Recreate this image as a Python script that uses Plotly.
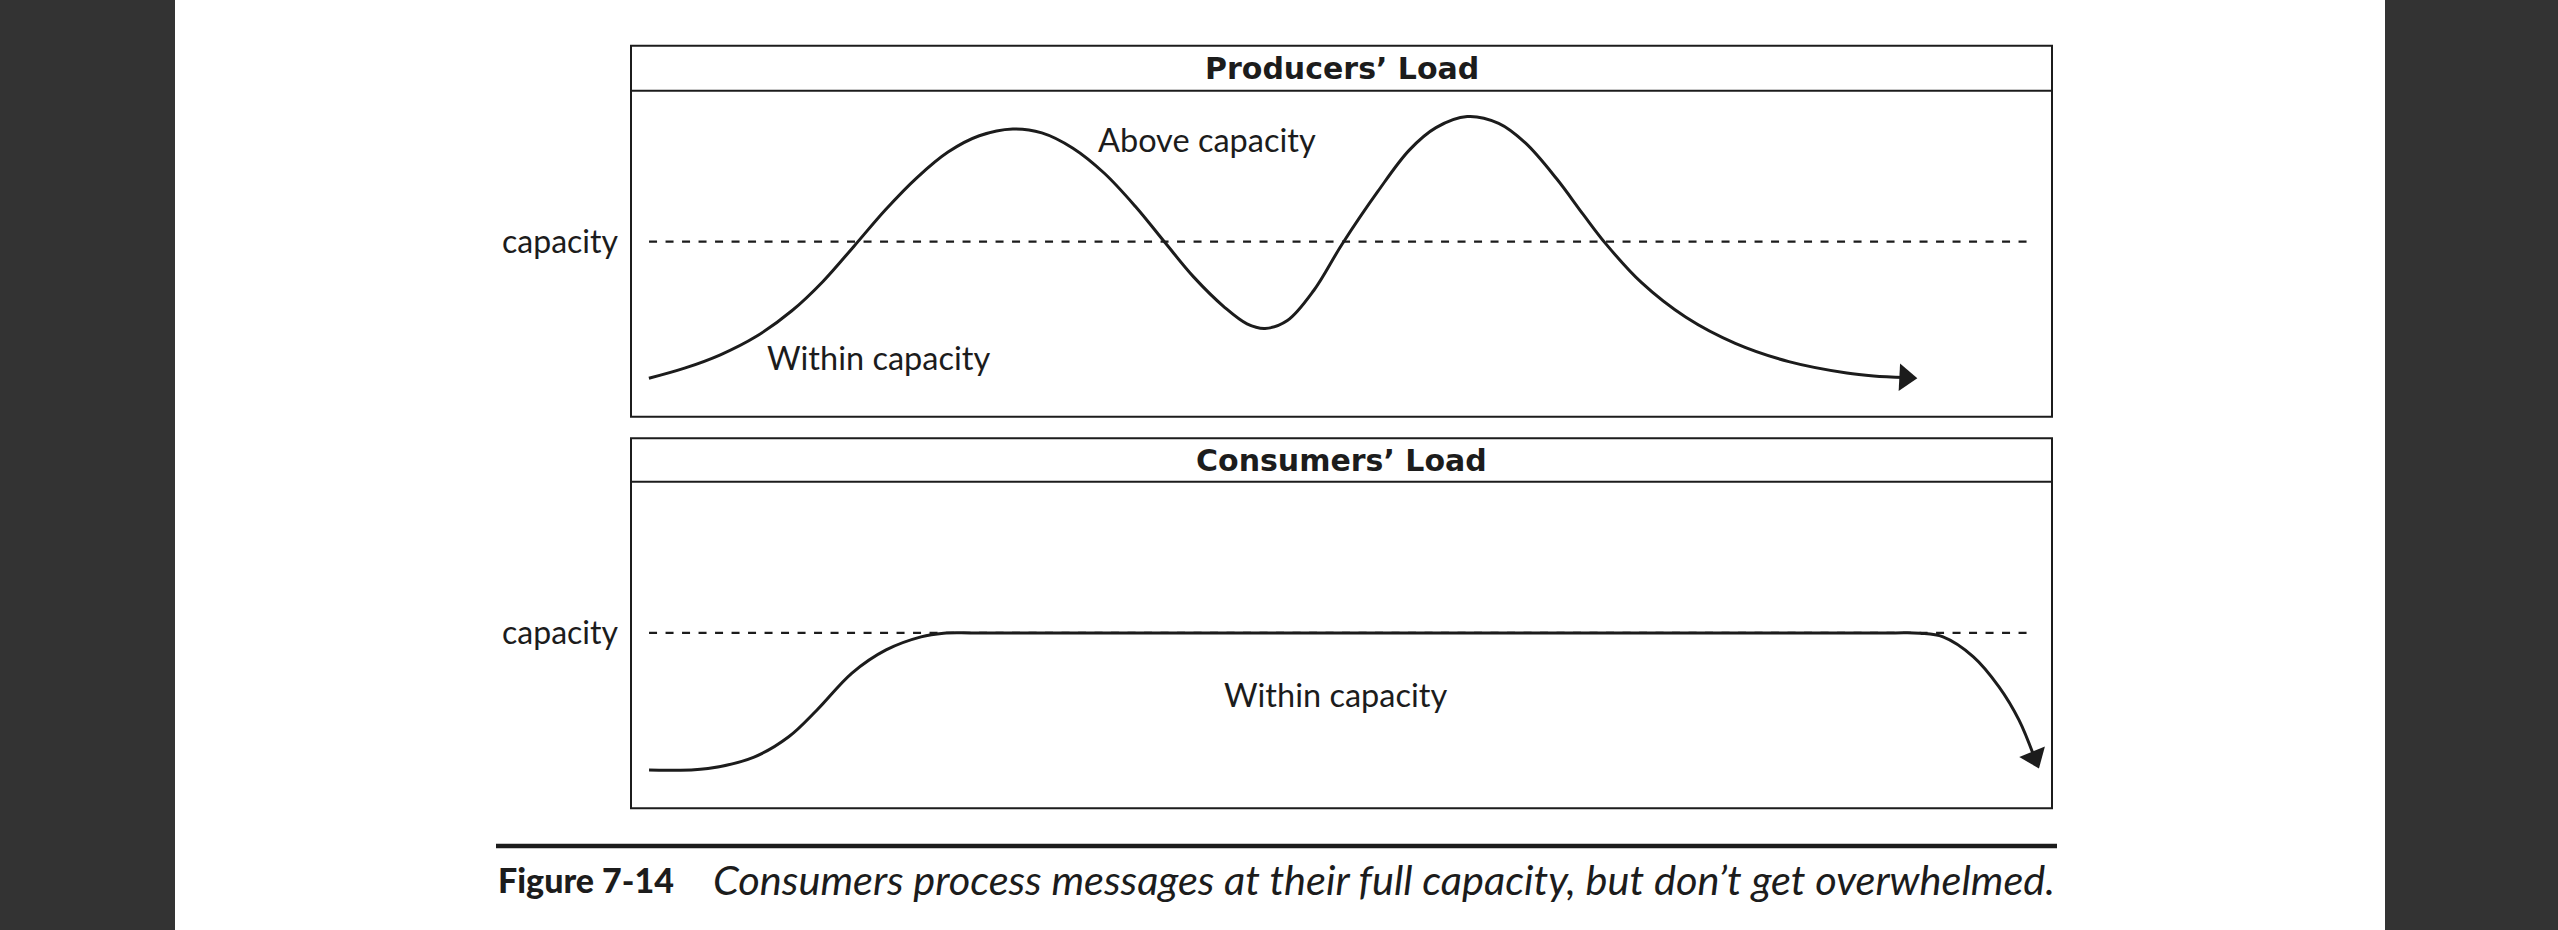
import plotly.graph_objects as go

W, H = 2558, 930

# ---- data (time 0..100, load 0..10) ----
capacity = 5.37
capacity_span = [1.27, 98.66]

producer_x = [1.26, 3.77, 6.29, 8.80, 11.32, 13.51, 15.71, 17.91, 20.11, 22.31, 24.51,
              26.87, 28.91, 31.10, 33.31, 35.50, 37.55, 39.59, 41.79, 43.35, 44.62,
              46.19, 48.06, 50.05, 52.57, 54.77, 56.65, 58.85, 61.06, 62.94, 65.14,
              67.02, 68.59, 71.10, 74.24, 77.71, 81.48, 85.56, 87.45, 89.68]
producer_y = [1.18, 1.49, 1.90, 2.46, 3.25, 4.15, 5.24, 6.35, 7.33, 8.12, 8.62,
              8.83, 8.71, 8.24, 7.47, 6.45, 5.36, 4.29, 3.35, 2.85, 2.71,
              2.95, 3.88, 5.30, 6.92, 8.18, 8.87, 9.21, 9.00, 8.40, 7.30,
              6.20, 5.31, 4.12, 3.05, 2.25, 1.69, 1.34, 1.25, 1.20]

consumer_x = [1.27, 5.42, 8.66, 11.10, 13.09, 15.55, 17.95, 20.41, 22.0, 24.0, 30.0, 40.0,
              50.0, 60.0, 70.0, 80.0, 88.8, 90.71, 92.33, 94.47, 96.27, 97.68, 98.76]
consumer_y = [1.17, 1.22, 1.57, 2.19, 3.01, 4.14, 4.85, 5.25, 5.36, 5.37, 5.37, 5.37,
              5.37, 5.37, 5.37, 5.37, 5.37, 5.36, 5.25, 4.64, 3.72, 2.70, 1.56]

panel_titles = ["Producers\u2019 Load", "Consumers\u2019 Load"]
axis_label = "capacity"
region_labels = ["Above capacity", "Within capacity", "Within capacity"]
caption_label = "Figure 7-14"
caption_text = "Consumers process messages at their full capacity, but don\u2019t get overwhelmed."

INK = "#1c1c1c"
FONT = "Lato, 'Open Sans', 'DejaVu Sans', sans-serif"
TITLE_FONT = "'DejaVu Sans', Lato, sans-serif"


def px(x):
    return x / W


def py(y):
    return 1 - y / H


# panel geometry in pixels: (box_top, title_sep, box_bottom)
BOX_L, BOX_R = 631, 2052
panels = [(45.8, 90.8, 416.7), (438.3, 481.7, 808.3)]

fig = go.Figure()

series = [(producer_x, producer_y, "x", "y"), (consumer_x, consumer_y, "x2", "y2")]
for xs, ys, xa, ya in series:
    # capacity dashed line
    fig.add_trace(go.Scatter(
        x=capacity_span, y=[capacity, capacity], mode="lines",
        line=dict(color=INK, width=2.3, dash="8px,8.5px"),
        xaxis=xa, yaxis=ya, hoverinfo="skip", showlegend=False))
    # load curve with arrow head at the end
    n = len(xs)
    fig.add_trace(go.Scatter(
        x=xs, y=ys, mode="lines+markers",
        line=dict(color=INK, width=3, shape="spline", smoothing=1.0),
        marker=dict(symbol="triangle-up", size=[0] * (n - 1) + [24],
                    angleref="previous", color=INK, opacity=1, line=dict(width=0)),
        xaxis=xa, yaxis=ya, hoverinfo="skip", showlegend=False))

axis_common = dict(showgrid=False, zeroline=False, showline=False)
for i, (top, sep, bot) in enumerate(panels):
    sfx = "" if i == 0 else str(i + 1)
    fig.update_layout(**{
        "xaxis" + sfx: dict(domain=[px(BOX_L), px(BOX_R)], range=[0, 100],
                            showticklabels=False, ticks="", anchor="y" + sfx, **axis_common),
        "yaxis" + sfx: dict(domain=[py(bot), py(sep)], range=[0, 10],
                            tickvals=[capacity], ticktext=[axis_label], ticks="",
                            ticklabelstandoff=12,
                            tickfont=dict(family=FONT, size=32, color=INK),
                            anchor="x" + sfx, **axis_common),
    })
    # outer box and title separator
    fig.add_shape(type="rect", xref="paper", yref="paper",
                  x0=px(BOX_L), x1=px(BOX_R), y0=py(bot), y1=py(top),
                  line=dict(color=INK, width=2))
    fig.add_shape(type="line", xref="paper", yref="paper",
                  x0=px(BOX_L), x1=px(BOX_R), y0=py(sep), y1=py(sep),
                  line=dict(color=INK, width=2))
    fig.add_annotation(xref="paper", yref="paper", x=px((BOX_L + BOX_R) / 2),
                       y=py((top + sep) / 2), text=panel_titles[i], showarrow=False,
                       xanchor="center", yanchor="middle",
                       font=dict(family=TITLE_FONT, size=30, color=INK, weight="bold"))

# region labels
label_pos = [("x", "y", 40.5, 8.5), ("x", "y", 17.45, 1.83), ("x2", "y2", 49.6, 3.47)]
for txt, (xr, yr, lx, ly) in zip(region_labels, label_pos):
    fig.add_annotation(xref=xr, yref=yr, x=lx, y=ly, text=txt, showarrow=False,
                       font=dict(family=FONT, size=32.5, color=INK))

# dark page edges
fig.add_shape(type="rect", xref="paper", yref="paper", x0=0, x1=px(175), y0=0, y1=1,
              fillcolor="#333333", line=dict(width=0), layer="below")
fig.add_shape(type="rect", xref="paper", yref="paper", x0=px(2385), x1=1, y0=0, y1=1,
              fillcolor="#333333", line=dict(width=0), layer="below")

# caption rule and caption
fig.add_shape(type="line", xref="paper", yref="paper", x0=px(496), x1=px(2057),
              y0=py(846), y1=py(846), line=dict(color=INK, width=4.5))
fig.add_annotation(xref="paper", yref="paper", x=px(496), y=py(879), text=caption_label,
                   showarrow=False, xanchor="left", yanchor="middle",
                   font=dict(family=FONT, size=34, color=INK, weight=900))
fig.add_annotation(xref="paper", yref="paper", x=px(711), y=py(879), text=caption_text,
                   showarrow=False, xanchor="left", yanchor="middle",
                   font=dict(family=FONT, size=41.5, color=INK, style="italic"))

fig.update_layout(width=W, height=H, margin=dict(l=0, r=0, t=0, b=0),
                  paper_bgcolor="white", plot_bgcolor="rgba(0,0,0,0)",
                  showlegend=False)

fig.write_html("out.html")
